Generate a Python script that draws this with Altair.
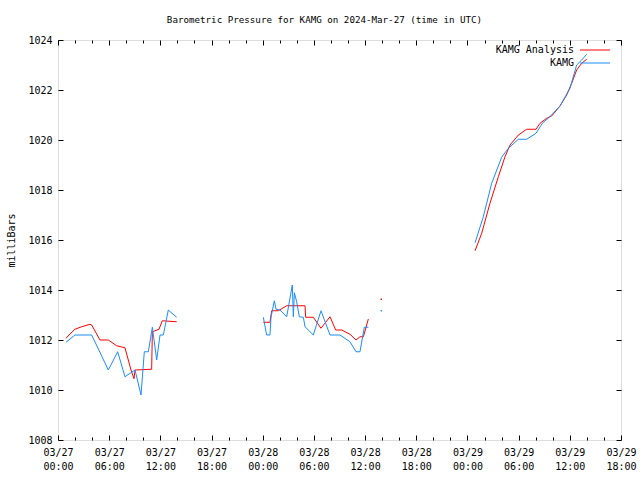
import altair as alt
import pandas as pd

# ---- data (hours since 2024-03-27 00:00 UTC, pressure in mb) ----
ana_h1 = [0.94, 1.41, 1.99, 2.77, 3.75, 3.95, 4.92, 5.90, 6.88, 7.85, 8.56, 8.91, 9.03, 10.98, 11.06, 11.84, 12.23, 13.91]
ana_v1 = [1012.07, 1012.24, 1012.43, 1012.53, 1012.63, 1012.60, 1012.00, 1012.00, 1011.77, 1011.69, 1010.80, 1010.45, 1010.80, 1010.83, 1012.33, 1012.43, 1012.77, 1012.73]
obs_h1 = [0.94, 1.99, 3.95, 5.90, 7.00, 7.85, 9.03, 9.73, 10.12, 10.59, 11.06, 11.57, 11.96, 12.35, 12.93, 13.91]
obs_v1 = [1011.91, 1012.20, 1012.20, 1010.80, 1011.53, 1010.53, 1010.80, 1009.80, 1011.53, 1011.53, 1012.51, 1011.20, 1012.20, 1012.20, 1013.20, 1012.91]

ana_h2 = [24.07, 24.85, 25.05, 25.83, 26.81, 28.96, 29.03, 29.93, 30.83, 31.89, 32.55, 33.26, 34.23, 34.94, 35.40, 35.80, 36.38]
ana_v2 = [1012.71, 1012.71, 1013.17, 1013.17, 1013.37, 1013.37, 1012.91, 1012.91, 1012.47, 1012.93, 1012.40, 1012.40, 1012.23, 1012.00, 1012.13, 1012.13, 1012.84]
obs_h2 = [24.07, 24.46, 24.85, 24.97, 25.36, 25.56, 26.03, 26.81, 27.47, 27.59, 27.71, 27.98, 28.29, 28.76, 28.96, 29.93, 30.83, 31.89, 33.06, 34.23, 34.94, 35.40, 35.91, 36.38]
obs_v2 = [1012.91, 1012.20, 1012.20, 1012.91, 1013.57, 1013.23, 1013.20, 1012.93, 1014.20, 1012.93, 1013.89, 1013.53, 1012.93, 1012.91, 1012.53, 1012.20, 1013.17, 1012.20, 1012.20, 1011.93, 1011.53, 1011.53, 1012.51, 1012.51]

ana_h3 = [37.90]
ana_v3 = [1013.63]
obs_h3 = [37.90]
obs_v3 = [1013.17]

ana_h4 = [48.89, 49.67, 50.64, 51.62, 52.40, 52.99, 53.97, 54.94, 56.04, 56.51, 57.29, 57.87, 58.85, 59.63, 60.22, 60.80, 61.39, 61.98]
ana_v4 = [1015.57, 1016.27, 1017.47, 1018.53, 1019.33, 1019.80, 1020.20, 1020.43, 1020.43, 1020.67, 1020.87, 1020.96, 1021.36, 1021.80, 1022.27, 1022.80, 1023.07, 1023.23]
obs_h4 = [48.89, 49.86, 50.84, 52.01, 52.79, 53.97, 54.94, 56.04, 56.82, 57.60, 58.85, 60.02, 60.80, 61.39, 61.98]
obs_v4 = [1015.89, 1016.93, 1018.27, 1019.31, 1019.67, 1020.03, 1020.03, 1020.27, 1020.69, 1020.91, 1021.36, 1022.07, 1023.00, 1023.20, 1023.43]

series_names = ["KAMG Analysis", "KAMG"]
series_colors = ["#ff0000", "#1a8cff"]
x_major = list(range(0, 67, 6))
x_minor = [h for h in range(0, 67, 2) if h % 6]
y_ticks = list(range(1008, 1025, 2))

rows = []
for name, segs in [
    ("KAMG Analysis", [(ana_h1, ana_v1), (ana_h2, ana_v2), (ana_h3, ana_v3), (ana_h4, ana_v4)]),
    ("KAMG", [(obs_h1, obs_v1), (obs_h2, obs_v2), (obs_h3, obs_v3), (obs_h4, obs_v4)]),
]:
    for i, (hs, vs) in enumerate(segs):
        for h, v in zip(hs, vs):
            rows.append({"series": name, "seg": f"{name}-{i}", "hour": h, "value": v})
df = pd.DataFrame(rows)

FONT = "DejaVu Sans Mono"
W, H = 563, 400

xs = alt.Scale(domain=[0, 66], nice=False, zero=False)
ys = alt.Scale(domain=[1008, 1024], nice=False, zero=False)


def tick_axis(orient, values, size, offset):
    return alt.Axis(orient=orient, values=values, tickSize=size, offset=offset,
                    labels=False, domain=False, grid=False, title=None,
                    ticks=True, tickColor="black", tickWidth=1)


label_expr = ("['03/' + (27 + floor(datum.value / 24)), "
              "(datum.value % 24 < 10 ? '0' : '') + (datum.value % 24) + ':00']")

color = alt.Color(
    "series:N",
    scale=alt.Scale(domain=series_names, range=series_colors),
    legend=alt.Legend(orient="none", legendX=522, legendY=5, title=None,
                      symbolType="M -5 0 L 5 0", symbolSize=36, symbolStrokeWidth=1,
                      symbolOffset=10, rowPadding=3, labelAlign="right",
                      labelOffset={"expr": "-26"},
                      labelFont=FONT, labelFontSize=10, labelColor="black",
                      padding=0, labelLimit=0),
)

lines = alt.Chart(df).mark_line(strokeWidth=1).encode(
    x=alt.X("hour:Q", scale=xs,
            axis=alt.Axis(orient="bottom", values=x_major, tickSize=0, domain=False,
                          grid=False, title=None, labelExpr=label_expr,
                          labelFont=FONT, labelFontSize=10, labelColor="black",
                          labelPadding=7, labelLineHeight=14, labelAlign="center",
                          labelBaseline="top", labelFlush=False, labelOverlap=False)),
    y=alt.Y("value:Q", scale=ys,
            axis=alt.Axis(orient="left", values=y_ticks, tickSize=0, domain=False,
                          grid=False, labelFont=FONT, labelFontSize=10,
                          labelColor="black", labelPadding=6, format="d",
                          title="milliBars", titleFont=FONT, titleFontSize=10,
                          titleFontWeight="normal", titleColor="black",
                          titleAngle=-90, titleX=-47, titleY=200,
                          titleAlign="center", titleBaseline="middle")),
    color=color,
    detail="seg:N",
)

points = alt.Chart(df).transform_joinaggregate(
    n="count()", groupby=["seg"]
).transform_filter("datum.n == 1").mark_square(size=2, opacity=1).encode(
    x=alt.X("hour:Q", scale=xs, axis=tick_axis("top", x_major, 5, -H)),
    y=alt.Y("value:Q", scale=ys, axis=tick_axis("right", y_ticks, 5, -W)),
    color=alt.Color("series:N", scale=alt.Scale(domain=series_names, range=series_colors), legend=None),
)

dummy_a = alt.Chart(df).mark_point(opacity=0).encode(
    x=alt.X("hour:Q", scale=xs, axis=tick_axis("top", x_minor, 3, -H)),
    y=alt.Y("value:Q", scale=ys, axis=tick_axis("left", y_ticks, 5, -W)),
)
dummy_b = alt.Chart(df).mark_point(opacity=0).encode(
    x=alt.X("hour:Q", scale=xs, axis=tick_axis("bottom", x_major, 5, -H)),
    y=alt.Y("value:Q", scale=ys, axis=None),
)
dummy_c = alt.Chart(df).mark_point(opacity=0).encode(
    x=alt.X("hour:Q", scale=xs, axis=tick_axis("bottom", x_minor, 3, -H)),
    y=alt.Y("value:Q", scale=ys, axis=None),
)

chart = alt.layer(lines, points, dummy_a, dummy_b, dummy_c).resolve_axis(
    x="independent", y="independent"
).properties(
    width=W, height=H,
    autosize="none",
    padding={"left": 58, "top": 40, "right": 19, "bottom": 40},
    title=alt.TitleParams(
        "Barometric Pressure for KAMG on 2024-Mar-27 (time in UTC)",
        font=FONT, fontSize=9.2, fontWeight="normal", color="black",
        anchor="middle", dx=-15, offset=1, baseline="bottom",
    ),
).configure_view(stroke="black", strokeWidth=1).configure(background="white")

chart.save("out.html", embed_options={"renderer": "svg", "actions": False})
